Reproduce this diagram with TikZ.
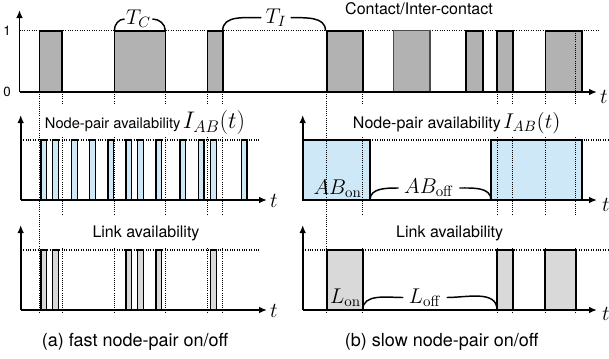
\RequirePackage{fix-cm}
\documentclass[tikz,border=0pt]{standalone}
\usepackage[no-math]{fontspec}
\setmainfont{TeX Gyre Heros}
\usetikzlibrary{arrows.meta}
\definecolor{pblue}{RGB}{207,232,247}
\begin{document}
\begin{tikzpicture}[x=0.75pt,y=-0.75pt,
  axis/.style={line width=1.4pt,-{Latex[length=6pt,width=5pt]}},
  level/.style={densely dotted,line width=0.8pt},
  vguide/.style={densely dotted,line width=0.6pt},
  cpulse/.style={draw=black,line width=1.2pt,fill=black!30},
  bpulse/.style={draw=black,line width=1.0pt,fill=pblue},
  lpulse/.style={draw=black,line width=1.0pt,fill=black!15},
  wbox/.style={fill=white,inner sep=0pt,draw=none},
  ttl/.style={inner sep=0pt,font=\fontsize{12}{14}\selectfont},
  brace/.style={line width=1.1pt},
  mlab/.style={inner sep=2pt,font=\fontsize{16}{18}\selectfont},
  captxt/.style={inner sep=0pt,font=\fontsize{13.5}{16}\selectfont},
]
\useasboundingbox (0,0) rectangle (609,358);

% ---------- top panel ----------
\draw[level] (19.5,30.7) -- (600,30.7);
\foreach \a/\b in {39.3/62,114.3/165.3,207.3/222.7,326.7/362.7,466/482.7,497/512.7,545.3/581.7}
  \draw[cpulse] (\a,92) rectangle (\b,30.7);
\draw[cpulse,draw=black!70,line width=0.9pt] (393.3,92) rectangle (430,30.7);

% ---------- middle panels ----------
\draw[level] (20.7,140) -- (260,140);
\foreach \a in {41,52.7,71.7,89.7,108,126,137.7,156,180,198.3,210.7,241.3}
  \draw[bpulse] (\a,200) rectangle ++(5.7,-60);
\draw[level] (302.7,140) -- (609,140);
\draw[bpulse,line width=1.3pt] (302.7,200) rectangle (370,140);
\draw[bpulse,line width=1.3pt] (491,200) rectangle (582,140);

% ---------- bottom panels ----------
\draw[level] (20.7,250) -- (260,250);
\foreach \a in {41,52.7,126,137.7,156,210.7}
  \draw[lpulse] (\a,310) rectangle ++(5.7,-60);
\draw[level] (302.7,250) -- (609,250);
\foreach \a/\b in {326.7/362.7,497/512.7,545.3/576}
  \draw[lpulse,line width=1.3pt] (\a,310) rectangle (\b,250);

% ---------- vertical guides ----------
\foreach \x in {39.3,62,114.3,165.3,207.3,222.7,326.7,362.7,497,512.7,545.3}
  \draw[vguide] (\x,92) -- (\x,313);
\draw[vguide] (575.3,30.7) -- (575.3,313);

% ---------- axes ----------
\coordinate (o1) at (19.5,92);   \coordinate (y1) at (19.5,10);  \coordinate (x1) at (597,92);
\coordinate (o2) at (20.7,200);  \coordinate (y2) at (20.7,115); \coordinate (x2) at (267,200);
\coordinate (o3) at (302.7,200); \coordinate (y3) at (302.7,115);\coordinate (x3) at (597,200);
\coordinate (o4) at (20.7,310);  \coordinate (y4) at (20.7,225); \coordinate (x4) at (267,310);
\coordinate (o5) at (302.7,310); \coordinate (y5) at (302.7,225);\coordinate (x5) at (597,310);
\foreach \i in {1,...,5}{
  \draw[axis] (o\i) -- (y\i);
  \draw[axis] (o\i) -- (x\i);
}

% ---------- axis labels ----------
\node[inner sep=0pt,font=\fontsize{10}{12}\selectfont] (one) at (7,31) {1};
\node[inner sep=0pt,font=\fontsize{10}{12}\selectfont] (zero) at (7,92) {0};
\node[mlab,inner sep=0pt] (t1) at (604,97) {$t$};
\node[mlab,inner sep=0pt] (t2) at (274,201) {$t$};
\node[mlab,inner sep=0pt] (t3) at (606,205) {$t$};
\node[mlab,inner sep=0pt] (t4) at (274,311) {$t$};
\node[mlab,inner sep=0pt] (t5) at (606,314) {$t$};

% ---------- titles ----------
\node[ttl] (contact) at (419,9) {Contact/Inter-contact};
\node[wbox,minimum width=160pt,minimum height=24pt] (bml) at (155,121) {};
\node[wbox,minimum width=185pt,minimum height=24pt] (bmr) at (461.5,121) {};
\node[wbox,minimum width=160pt,minimum height=23pt] (bbl) at (155,231.5) {};
\node[wbox,minimum width=185pt,minimum height=23pt] (bbr) at (461.5,231.5) {};
\node[ttl,font=\fontsize{11}{13}\selectfont] (tml) at (145,122.7)
  {Node-pair availability\,{\fontsize{18}{20}\selectfont$I_{AB}(t)$}};
\node[ttl] (tmr) at (456.7,122.7)
  {Node-pair availability\,{\fontsize{16}{18}\selectfont$I_{AB}(t)$}};
\node[ttl] (tbl) at (146,233) {Link availability};
\node[ttl] (tbr) at (449.7,233) {Link availability};

% ---------- braces ----------
\node[mlab,inner sep=1pt] (tc) at (138.5,19) {$T_C$};
\draw[brace] (114.3,30.7) to[out=90,in=180] (tc.west);
\draw[brace] (tc.east) to[out=0,in=90] (165.3,30.7);
\node[mlab,inner sep=3pt] (ti) at (276,17.5) {$T_I$};
\draw[brace] (222.7,30.7) to[out=90,in=182] (ti.west);
\draw[brace] (ti.east) to[out=-2,in=90] (325.5,30.7);

\node[mlab,inner sep=0pt] (abon) at (337.5,189) {$AB_{\mathrm{on}}$};
\node[mlab,inner sep=4pt] (aboff) at (429,188) {$AB_{\mathrm{off}}$};
\draw[brace] (370,200) to[out=90,in=180] (aboff.west);
\draw[brace] (aboff.east) to[out=0,in=90] (491,200);

\node[mlab,inner sep=0pt] (lon) at (345.5,298) {$L_{\mathrm{on}}$};
\node[mlab,inner sep=4pt] (loff) at (425,297.5) {$L_{\mathrm{off}}$};
\draw[brace] (362.7,310) to[out=90,in=180] (loff.west);
\draw[brace] (loff.east) to[out=0,in=90] (497,310);

% ---------- captions ----------
\node[captxt] (capa) at (135,341.7) {(a) fast node-pair on/off};
\node[captxt] (capb) at (441.7,341.7) {(b) slow node-pair on/off};
\end{tikzpicture}
\end{document}
